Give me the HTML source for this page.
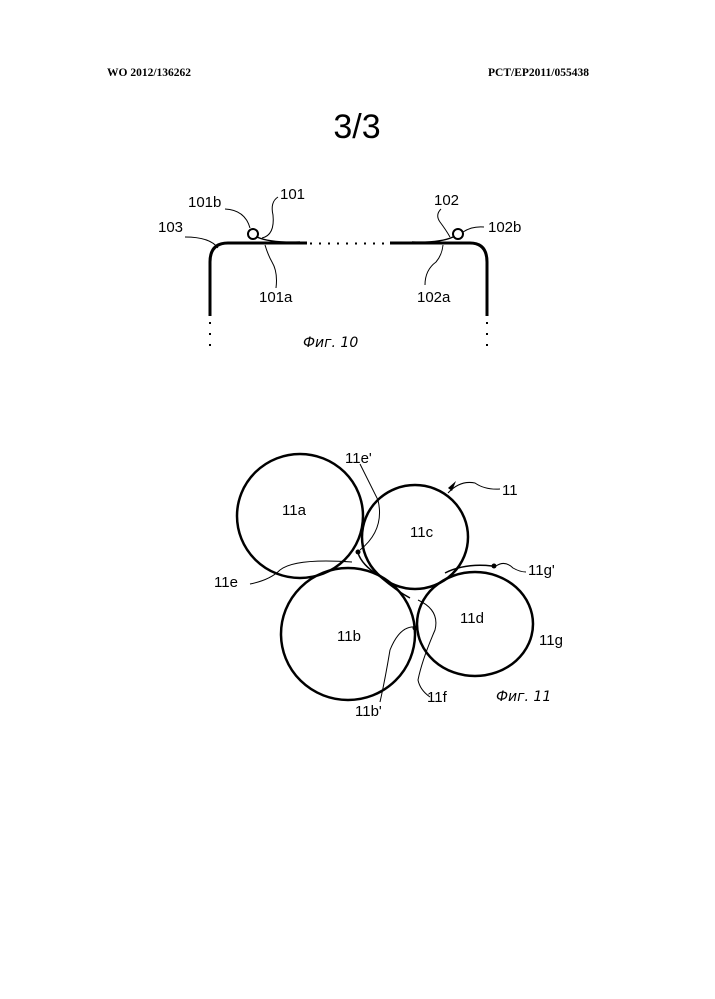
<!DOCTYPE html>
<html><head><meta charset="utf-8"><style>
html,body{margin:0;padding:0;background:#fff;}
svg{display:block}
text{font-family:"Liberation Sans",sans-serif;fill:#000}
</style></head><body>
<svg width="715" height="999" viewBox="0 0 715 999" xmlns="http://www.w3.org/2000/svg">
<text x="107" y="76" style="font-family:'Liberation Serif',serif;font-weight:bold;font-size:11.5px">WO 2012/136262</text>
<text x="488" y="76" style="font-family:'Liberation Serif',serif;font-weight:bold;font-size:11.5px">PCT/EP2011/055438</text>
<text x="357" y="138" text-anchor="middle" font-size="34">3/3</text>

<g fill="none" stroke="#000">
<path d="M210 316 V262 Q210 243 228 243 H307" stroke-width="3"/>
<path d="M390 243 H470 Q487 243 487 262 V316" stroke-width="3"/>
<path d="M310 243.5 H384" stroke-width="2" stroke-dasharray="2 7"/>
<path d="M210 322 V352" stroke-width="2" stroke-dasharray="2 9"/>
<path d="M487 322 V352" stroke-width="2" stroke-dasharray="2 9"/>
<circle cx="253" cy="234" r="5" stroke-width="2"/>
<circle cx="458" cy="234" r="5" stroke-width="2"/>
<path d="M257 237 Q270 243 300 242" stroke-width="1.5"/>
<path d="M453 237 Q440 243 412 242" stroke-width="1.5"/>
<path d="M185 237 Q210 237 218 248" stroke-width="1"/>
<path d="M225 209 Q245 210 250 228" stroke-width="1"/>
<path d="M278 197 Q270 202 273 215 Q275 235 262 238" stroke-width="1"/>
<path d="M265 245 Q268 255 272 262 Q278 272 276 288" stroke-width="1"/>
<path d="M441 209 Q435 215 440 222 Q446 230 450 237" stroke-width="1"/>
<path d="M463 232 Q472 226 484 227" stroke-width="1"/>
<path d="M443 245 Q442 255 436 262 Q425 270 425 285" stroke-width="1"/>
</g>
<g font-size="15">
<text x="188" y="207">101b</text>
<text x="280" y="199">101</text>
<text x="158" y="232">103</text>
<text x="259" y="302">101a</text>
<text x="434" y="205">102</text>
<text x="488" y="232">102b</text>
<text x="417" y="302">102a</text>
</g>
<text x="303" y="347" font-size="14" font-style="italic" style="font-family:'DejaVu Sans',sans-serif">Фиг. 10</text>

<g fill="none" stroke="#000" stroke-width="2.5">
<ellipse cx="300" cy="516" rx="63" ry="62"/>
<ellipse cx="415" cy="537" rx="53" ry="52"/>
<ellipse cx="348" cy="634" rx="67" ry="66"/>
<ellipse cx="475" cy="624" rx="58" ry="52"/>
</g>
<g fill="none" stroke="#000" stroke-width="1">
<path d="M358 553 Q362 565 378 575 Q395 590 410 598" stroke-width="1.5"/>
<path d="M445 573 Q465 563 492 566" stroke-width="1.5"/>
<path d="M360 464 Q368 480 378 500 Q385 530 360 550"/>
<path d="M250 584 Q270 580 280 570 Q295 558 352 562"/>
<path d="M448 493 Q460 480 475 483 Q485 490 500 489"/>
<path d="M496 566 Q505 560 513 568 Q520 572 526 572"/>
<path d="M416 627 Q400 625 390 650 Q385 680 380 702"/>
<path d="M418 600 Q440 610 435 630 Q422 660 418 680 Q420 690 430 697"/>
</g>
<circle cx="358" cy="552" r="2.5" fill="#000"/>
<circle cx="494" cy="566" r="2.5" fill="#000"/>
<circle cx="415" cy="628" r="2.5" fill="#000"/>
<path d="M448 488 L456 481 L452 491 Z" fill="#000"/>
<g font-size="15">
<text x="345" y="463">11e'</text>
<text x="502" y="495">11</text>
<text x="282" y="515">11a</text>
<text x="410" y="537">11c</text>
<text x="214" y="587">11e</text>
<text x="528" y="575">11g'</text>
<text x="460" y="623">11d</text>
<text x="337" y="641">11b</text>
<text x="539" y="645">11g</text>
<text x="427" y="702">11f</text>
<text x="355" y="716">11b'</text>
</g>
<text x="496" y="701" font-size="14" font-style="italic" style="font-family:'DejaVu Sans',sans-serif">Фиг. 11</text>
</svg>
</body></html>
